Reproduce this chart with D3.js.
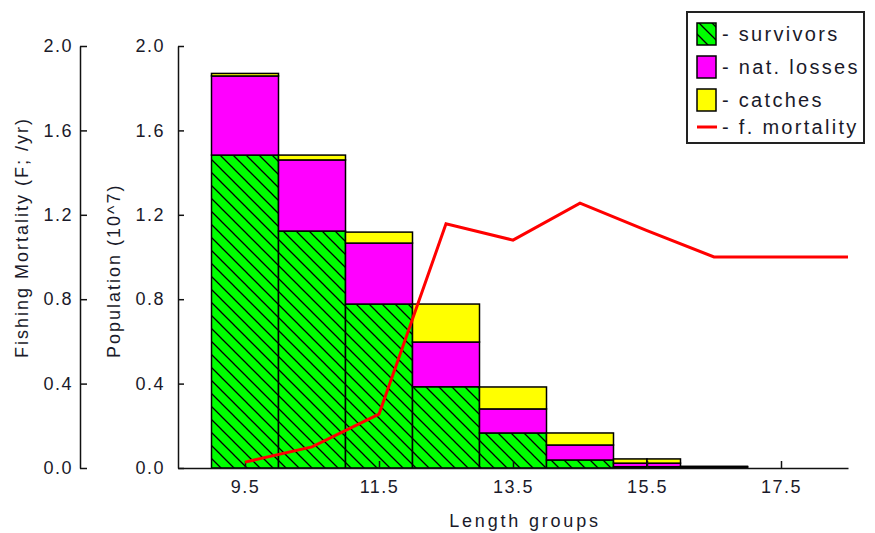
<!DOCTYPE html>
<html>
<head>
<meta charset="utf-8">
<script src="https://cdn.jsdelivr.net/npm/d3@7"></script>
<style>
  body { margin: 0; background: #fff; }
  text { font-family: "Liberation Sans", Arial, sans-serif; fill: #1a1a2a; }
  .tick text { font-size: 18px; letter-spacing: 1.5px; }
  .axis path, .axis line { stroke: #111; stroke-width: 1.5; }
  .title { font-size: 18px; letter-spacing: 2px; }
  .legend text { font-size: 20px; letter-spacing: 2.3px; }
</style>
</head>
<body>
<svg id="chart" width="875" height="533"></svg>
<script>
const WIDTH = 875;
const HEIGHT = 533;

// length groups: lower / upper edge of each bin
var binLow  = [9, 10, 11, 12, 13, 14, 15, 15.5, 16];
var binHigh = [10, 11, 12, 13, 14, 15, 15.5, 16, 17];

// population (10^7), stacked bottom to top
var survivors = [1.483, 1.123, 0.777, 0.385, 0.166, 0.038, 0.006, 0.006, 0.004];
var natLosses = [0.375, 0.337, 0.289, 0.212, 0.114, 0.071, 0.017, 0.017, 0.002];
var catches   = [0.012, 0.023, 0.052, 0.180, 0.104, 0.057, 0.020, 0.020, 0.002];

// fishing mortality (F; /yr)
var fLength = [9.5, 10.5, 11.5, 12.5, 13.5, 14.5, 15.5, 16.5, 17.5, 18.5];
var fValues = [0.028, 0.10, 0.255, 1.157, 1.08, 1.255, 1.125, 1.0, 1.0, 1.0];

var xTicks = [9.5, 11.5, 13.5, 15.5, 17.5];
var yTicks = [0, 0.4, 0.8, 1.2, 1.6, 2.0];

var legendItems = [
    {label: '- survivors', kind: 'hatch'},
    {label: '- nat. losses', kind: 'magenta'},
    {label: '- catches', kind: 'yellow'},
    {label: '- f. mortality', kind: 'line'}
];

var xScale = d3.scaleLinear().domain([8.5, 18.5]).range([178, 848]);
var popScale = d3.scaleLinear().domain([0, 2]).range([468, 46]);
var fScale = d3.scaleLinear().domain([0, 2]).range([468, 46]);

var svg = d3.select('#chart');

// hatch pattern for survivors
var defs = svg.append('defs');
var pat = defs.append('pattern')
    .attr('id', 'hatch')
    .attr('patternUnits', 'userSpaceOnUse')
    .attr('width', 13).attr('height', 13);
pat.append('rect').attr('width', 13).attr('height', 13).attr('fill', '#00ff00');
pat.append('path')
    .attr('d', 'M0,0 L13,13 M-2,11 L2,15 M11,-2 L15,2')
    .attr('stroke', '#000').attr('stroke-width', 1.3);

var fills = {hatch: 'url(#hatch)', magenta: '#ff00ff', yellow: '#ffff00'};

// stacked bars
var layers = [
    {values: survivors, fill: fills.hatch},
    {values: natLosses, fill: fills.magenta},
    {values: catches, fill: fills.yellow}
];

var bars = svg.append('g');
binLow.forEach(function (lo, i) {
    var base = 0;
    layers.forEach(function (layer) {
        var v = layer.values[i];
        bars.append('rect')
            .attr('x', xScale(lo))
            .attr('width', xScale(binHigh[i]) - xScale(lo))
            .attr('y', popScale(base + v))
            .attr('height', popScale(base) - popScale(base + v))
            .attr('fill', layer.fill)
            .attr('stroke', '#000')
            .attr('stroke-width', 1.5);
        base += v;
    });
});

// axes
var xAxis = d3.axisBottom(xScale).tickValues(xTicks).tickSizeInner(-7).tickSizeOuter(0)
    .tickPadding(12).tickFormat(d3.format('.1f'));
svg.append('g').attr('class', 'axis')
    .attr('transform', 'translate(0,468)').call(xAxis);

var popAxis = d3.axisLeft(popScale).tickValues(yTicks).tickSizeInner(-6).tickSizeOuter(0)
    .tickPadding(13).tickFormat(d3.format('.1f'));
svg.append('g').attr('class', 'axis')
    .attr('transform', 'translate(178,0)').call(popAxis);

var fAxis = d3.axisLeft(fScale).tickValues(yTicks).tickSizeInner(-7).tickSizeOuter(0)
    .tickPadding(7).tickFormat(d3.format('.1f'));
svg.append('g').attr('class', 'axis')
    .attr('transform', 'translate(80,0)').call(fAxis);

// fishing mortality line
var line = d3.line()
    .x(function (d, i) { return xScale(fLength[i]); })
    .y(function (d) { return fScale(d); });
svg.append('path')
    .attr('d', line(fValues))
    .attr('fill', 'none')
    .attr('stroke', '#ff0000')
    .attr('stroke-width', 3);

// axis titles
svg.append('text').attr('class', 'title')
    .attr('x', 525).attr('y', 527)
    .attr('text-anchor', 'middle')
    .style('letter-spacing', '2.8px')
    .text('Length groups');
svg.append('text').attr('class', 'title')
    .attr('transform', 'translate(28,358) rotate(-90)')
    .text('Fishing Mortality (F; /yr)');
svg.append('text').attr('class', 'title')
    .attr('transform', 'translate(120,358) rotate(-90)')
    .text('Population (10^7)');

// legend
var legend = svg.append('g').attr('class', 'legend');
legend.append('rect')
    .attr('x', 687).attr('y', 12).attr('width', 177).attr('height', 131)
    .attr('fill', '#fff').attr('stroke', '#222').attr('stroke-width', 2);

var rowY = [34, 67, 100, 127];
legendItems.forEach(function (item, i) {
    var cy = rowY[i];
    if (item.kind === 'line') {
        legend.append('line')
            .attr('x1', 697).attr('x2', 717).attr('y1', cy).attr('y2', cy)
            .attr('stroke', '#ff0000').attr('stroke-width', 3);
    } else {
        legend.append('rect')
            .attr('x', 697).attr('y', cy - 11).attr('width', 19).attr('height', 22)
            .attr('fill', fills[item.kind]).attr('stroke', '#000').attr('stroke-width', 1.5);
    }
    legend.append('text')
        .attr('x', 722).attr('y', cy + 7)
        .text(item.label);
});
</script>
</body>
</html>
